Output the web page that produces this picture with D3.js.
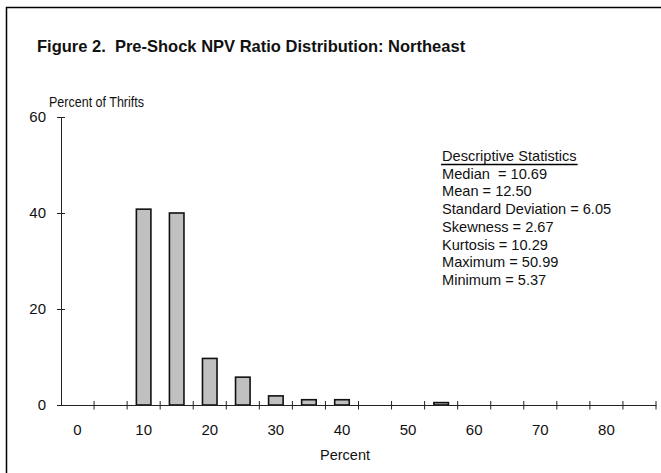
<!DOCTYPE html>
<html>
<head>
<meta charset="utf-8">
<script src="https://cdn.jsdelivr.net/npm/d3@7"></script>
<style>
  body { margin: 0; background: #fff; }
  text { font-family: Arial, "Liberation Sans", sans-serif; fill: #111; white-space: pre; }
</style>
</head>
<body>
<div id="chart"></div>
<script>
// categories (bin starts, percent) and share of thrifts in each bin
var categories = [0, 5, 10, 15, 20, 25, 30, 35, 40, 45, 50, 55, 60, 65, 70, 75, 80, 85]
var percentOfThrifts = [0, 0, 40.8, 40.0, 9.7, 5.8, 1.9, 1.1, 1.1, 0, 0, 0.5, 0, 0, 0, 0, 0, 0]
var yTicks = [0, 20, 40, 60]
var statsTitle = 'Descriptive Statistics'
var statsLines = [
  'Median  = 10.69',
  'Mean = 12.50',
  'Standard Deviation = 6.05',
  'Skewness = 2.67',
  'Kurtosis = 10.29',
  'Maximum = 50.99',
  'Minimum = 5.37'
]

var width = 661
    height = 473

var svg = d3.select('#chart')
  .append('svg')
    .attr('width', width)
    .attr('height', height)

// outer frame (only top and left edges are in view)
svg.append('path')
  .attr('d', 'M6.5,473 L6.5,7.5 L661,7.5')
  .attr('fill', 'none')
  .attr('stroke', '#000')
  .attr('stroke-width', 1.5)

svg.append('text')
  .attr('x', 37)
  .attr('y', 52)
  .style('font-size', '16.5px')
  .style('font-weight', 'bold')
  .text('Figure 2.  Pre-Shock NPV Ratio Distribution: Northeast')

// scales
var x = d3.scaleBand()
  .domain(categories)
  .range([61, 656])
  .padding(0)

var y = d3.scaleLinear()
  .domain([0, 60])
  .range([405, 117])

// bars
var barW = x.bandwidth() * 0.44
svg.append('g')
  .selectAll('rect')
  .data(categories.map(function(c, i) { return {key: c, value: percentOfThrifts[i]} })
    .filter(function(d) { return d.value > 0 }))
  .enter()
  .append('rect')
    .attr('x', function(d) { return x(d.key) + (x.bandwidth() - barW) / 2 })
    .attr('y', function(d) { return y(d.value) })
    .attr('width', barW)
    .attr('height', function(d) { return y(0) - y(d.value) })
    .attr('fill', '#c0c0c0')
    .attr('stroke', '#111')
    .attr('stroke-width', 1.6)

// y axis
var yAxis = svg.append('g')
  .attr('transform', 'translate(61,0)')
  .call(d3.axisLeft(y).tickValues(yTicks).tickSizeOuter(0).tickPadding(9))
yAxis.select('.domain').attr('stroke', '#222')
yAxis.selectAll('.tick line').attr('x1', -4).attr('x2', 4).attr('stroke', '#222')
yAxis.selectAll('.tick text')
  .style('font-size', '15px')
  .attr('fill', '#111')
  .attr('font-family', null)

// x axis: labels at every other bin centre, ticks at bin edges
var xAxis = svg.append('g')
  .attr('transform', 'translate(0,405)')
  .call(d3.axisBottom(x)
    .tickSize(0)
    .tickPadding(19.5)
    .tickFormat(function(d, i) { return i % 2 === 0 ? d : '' }))
xAxis.select('.domain').attr('stroke', '#222')
xAxis.selectAll('.tick text')
  .style('font-size', '15px')
  .attr('fill', '#111')
  .attr('font-family', null)

var edges = categories.slice(1).map(function(c) { return x(c) }).concat([x.range()[1]])
xAxis.selectAll('.edge')
  .data(edges)
  .enter()
  .append('line')
    .attr('x1', function(d) { return d })
    .attr('x2', function(d) { return d })
    .attr('y1', -4)
    .attr('y2', 4.5)
    .attr('stroke', '#222')

svg.append('text')
  .attr('x', 345)
  .attr('y', 460)
  .attr('text-anchor', 'middle')
  .style('font-size', '14.5px')
  .text('Percent')

svg.append('text')
  .attr('x', 49)
  .attr('y', 107)
  .attr('textLength', 95)
  .attr('lengthAdjust', 'spacingAndGlyphs')
  .style('font-size', '14px')
  .text('Percent of Thrifts')

// descriptive statistics block
var stats = svg.append('g').attr('transform', 'translate(442,161)')
var head = stats.append('text')
  .style('font-size', '14.6px')
  .text(statsTitle)
var hw = head.node().getComputedTextLength()
stats.append('line')
  .attr('x1', -1).attr('x2', hw + 1)
  .attr('y1', 3.5).attr('y2', 3.5)
  .attr('stroke', '#000')
  .attr('stroke-width', 1.5)
stats.selectAll('.stat')
  .data(statsLines)
  .enter()
  .append('text')
    .attr('class', 'stat')
    .attr('y', function(d, i) { return (i + 1) * 17.7 })
    .style('font-size', '14.6px')
    .text(function(d) { return d })
</script>
</body>
</html>
